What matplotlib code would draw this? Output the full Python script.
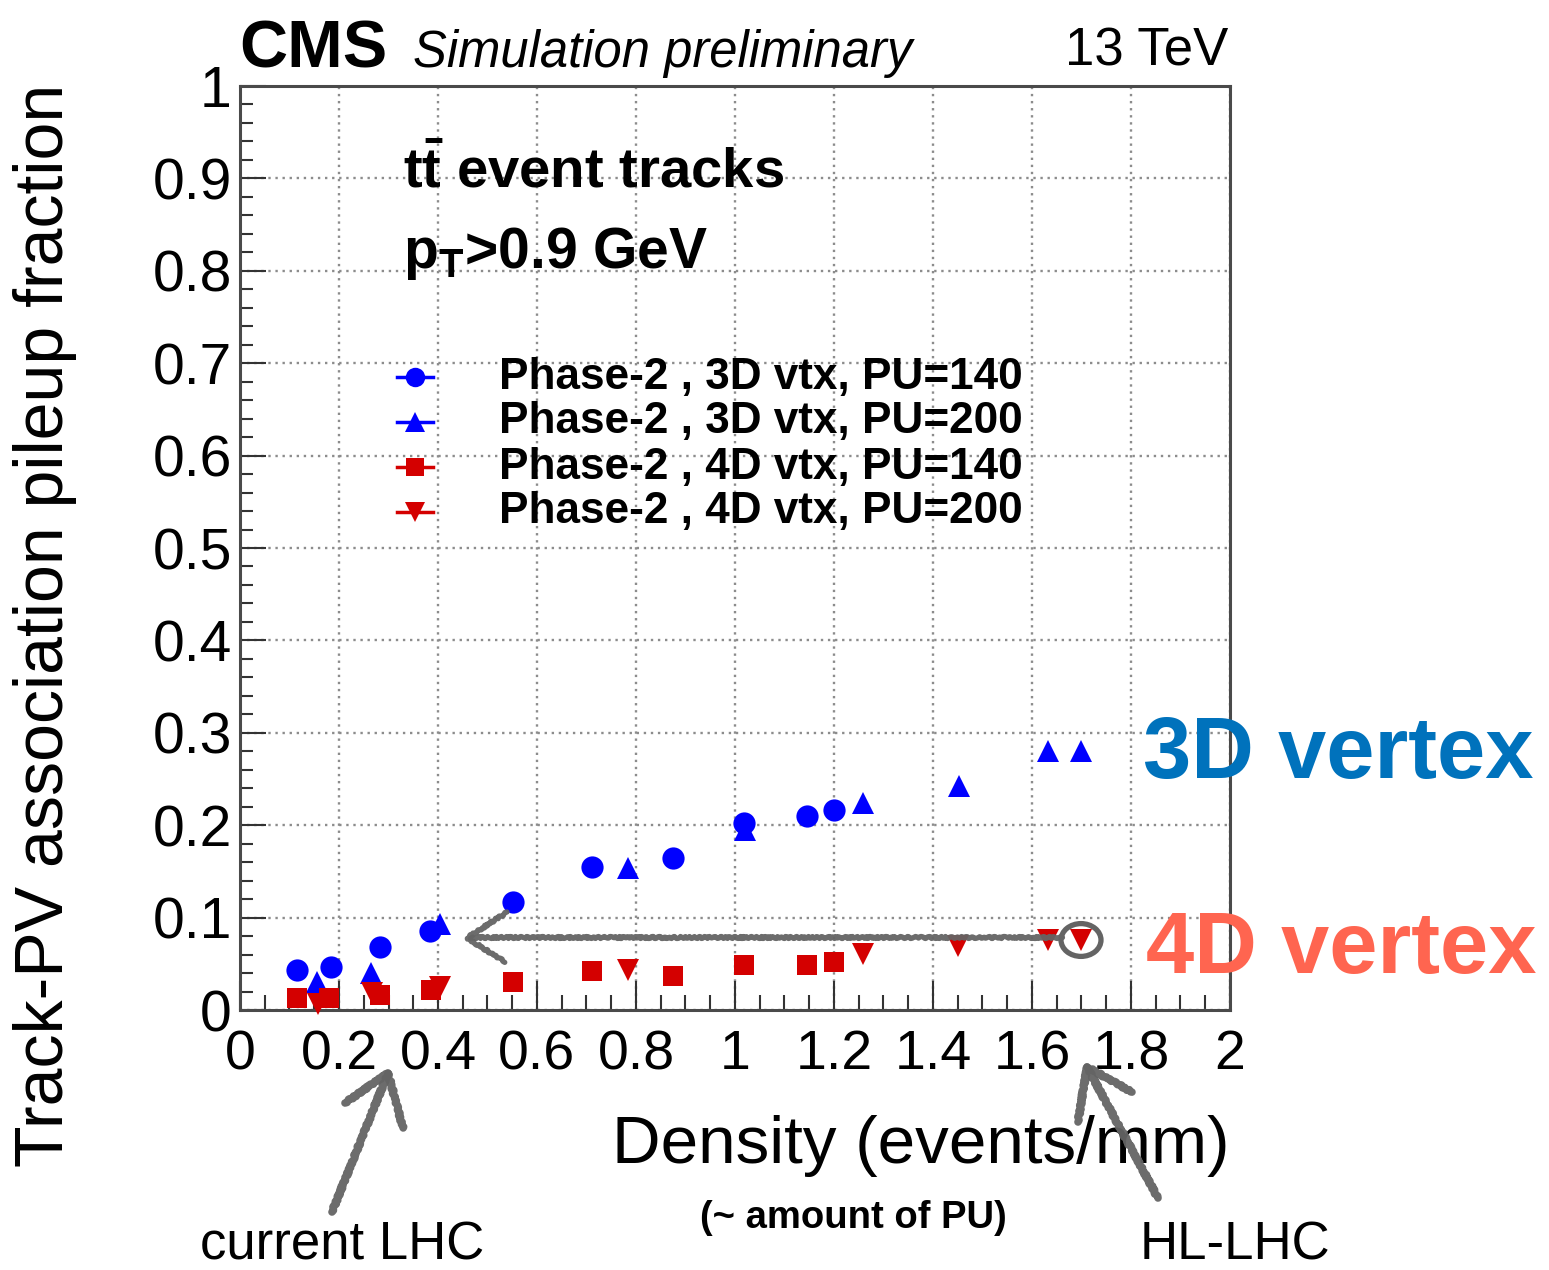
import matplotlib.pyplot as plt
from matplotlib.patches import Circle

plt.rcParams['font.family'] = ['Liberation Sans', 'DejaVu Sans']
plt.rcParams['mathtext.fontset'] = 'custom'
plt.rcParams['mathtext.rm'] = 'Liberation Sans'
plt.rcParams['mathtext.it'] = 'Liberation Sans:italic'
plt.rcParams['mathtext.bf'] = 'Liberation Sans:bold'

# pileup fraction of tracks associated to the PV, vs. vertex density (events/mm)
x_3d_140 = [0.115, 0.183, 0.283, 0.384, 0.551, 0.712, 0.875, 1.019, 1.145, 1.199]
y_3d_140 = [0.043, 0.046, 0.068, 0.086, 0.117, 0.155, 0.164, 0.202, 0.210, 0.216]

x_3d_200 = [0.155, 0.265, 0.404, 0.783, 1.020, 1.259, 1.453, 1.632, 1.700]
y_3d_200 = [0.030, 0.040, 0.093, 0.154, 0.195, 0.224, 0.242, 0.280, 0.280]

x_4d_140 = [0.115, 0.180, 0.283, 0.386, 0.551, 0.712, 0.875, 1.019, 1.146, 1.200]
y_4d_140 = [0.013, 0.013, 0.016, 0.022, 0.030, 0.042, 0.037, 0.049, 0.049, 0.052]

x_4d_200 = [0.158, 0.266, 0.404, 0.783, 1.258, 1.451, 1.632, 1.700]
y_4d_200 = [0.007, 0.018, 0.025, 0.043, 0.061, 0.069, 0.076, 0.076]

labels = ['Phase-2 , 3D vtx, PU=140', 'Phase-2 , 3D vtx, PU=200',
          'Phase-2 , 4D vtx, PU=140', 'Phase-2 , 4D vtx, PU=200']

BLUE = '#0000ff'
RED = '#d40000'
GREY = '#646464'

W, H = 1549, 1270
fig = plt.figure(figsize=(W / 100, H / 100), dpi=100)
ax = fig.add_axes([240 / W, (H - 1010) / H, 990 / W, 924 / H])


def fpx(x, y):
    # pixel position (from top-left) -> figure fraction
    return x / W, 1 - y / H


series = [
    (x_3d_140, y_3d_140, 'o', BLUE, 16),
    (x_3d_200, y_3d_200, '^', BLUE, 16),
    (x_4d_140, y_4d_140, 's', RED, 15),
    (x_4d_200, y_4d_200, 'v', RED, 16),
]
for xs, ys, m, c, ms in series:
    ax.plot(xs, ys, linestyle='none', marker=m, color=c, markersize=ms,
            markeredgewidth=0, clip_on=False, zorder=3)

ax.set_xlim(0, 2)
ax.set_ylim(0, 1)
ax.set_xticks([0, 0.2, 0.4, 0.6, 0.8, 1, 1.2, 1.4, 1.6, 1.8, 2])
ax.set_xticklabels(['0', '0.2', '0.4', '0.6', '0.8', '1', '1.2', '1.4', '1.6', '1.8', '2'])
ax.set_yticks([0, 0.1, 0.2, 0.3, 0.4, 0.5, 0.6, 0.7, 0.8, 0.9, 1])
ax.set_yticklabels(['0', '0.1', '0.2', '0.3', '0.4', '0.5', '0.6', '0.7', '0.8', '0.9', '1'])
ax.set_xticks([i * 0.05 for i in range(41)], minor=True)
ax.set_yticks([i * 0.02 for i in range(51)], minor=True)

ax.tick_params(which='both', direction='in', top=False, right=False,
               width=1.5, color='#333333')
ax.tick_params(axis='x', which='major', length=21, pad=14, labelsize=40)
ax.tick_params(axis='x', which='minor', length=11)
ax.tick_params(axis='y', which='major', length=19, pad=6, labelsize=41)
ax.tick_params(axis='y', which='minor', length=9)
for s in ax.spines.values():
    s.set_linewidth(2.2)
    s.set_color('#4a4a4a')

ax.grid(True, which='major', linestyle=(0, (1, 2)), color='#8c8c8c', linewidth=1.7)
ax.set_axisbelow(True)

ax.set_xlabel('Density (events/mm)', fontsize=48.5)
ax.xaxis.label.set_ha('right')
ax.xaxis.label.set_va('baseline')
ax.xaxis.set_label_coords(1.0, (1010 - 1163) / 924)

ax.set_ylabel('Track-PV association pileup fraction', fontsize=49)
ax.yaxis.label.set_rotation_mode('default')
ax.yaxis.label.set_ha('center')
ax.yaxis.label.set_va('top')
ax.yaxis.set_label_coords((45 - 240) / 990, (1010 - 84) / 924)

# header
fig.text(*fpx(239, 67), 'CMS', fontsize=48, fontweight='bold', va='baseline')
fig.text(*fpx(413, 67), 'Simulation preliminary', fontsize=36.5, style='italic', va='baseline')
fig.text(*fpx(1228, 66), '13 TeV', fontsize=38, ha='right', va='baseline')

# selection
fig.text(*fpx(403, 188), r'$\mathbf{t\bar{t}}$ event tracks', fontsize=40.5,
         fontweight='bold', va='baseline')
fig.text(*fpx(403, 268), r'$\mathbf{p_{T}}$>0.9 GeV', fontsize=41,
         fontweight='bold', va='baseline')

# legend
for i, (lab, (xs, ys, m, c, ms)) in enumerate(zip(labels, series)):
    yc = 377 + 45 * i
    fig.add_artist(plt.Line2D([397 / W, 415 / W, 433 / W], [1 - yc / H] * 3, color=c,
                              linewidth=2.5, marker=m, markersize=ms - 2,
                              markevery=[1], markeredgewidth=0))
    fig.text(*fpx(499, yc), lab, fontsize=31.8, fontweight='bold', va='center')

# side labels
fig.text(*fpx(1143, 778), '3D vertex', fontsize=62.5, fontweight='bold',
         color='#0072bc', va='baseline')
fig.text(*fpx(1146, 973), '4D vertex', fontsize=62.5, fontweight='bold',
         color='#ff6550', va='baseline')

# bottom notes
fig.text(*fpx(200, 1260), 'current LHC', fontsize=38, va='baseline')
fig.text(*fpx(700, 1228), '(~ amount of PU)', fontsize=27.5, fontweight='bold', va='baseline')
fig.text(*fpx(1140, 1259), 'HL-LHC', fontsize=38, va='baseline')


def stroke(pts, lw):
    xs = [fpx(*p)[0] for p in pts]
    ys = [fpx(*p)[1] for p in pts]
    ln = plt.Line2D(xs, ys, color=GREY, linewidth=lw, solid_capstyle='round',
                    solid_joinstyle='round', alpha=0.95)
    ln.set_sketch_params(scale=1.0, length=6, randomness=3)
    fig.add_artist(ln)


# hand-drawn arrows
stroke([(1062, 937), (470, 937)], 3.8)
stroke([(507, 912), (467, 938), (505, 962)], 3.8)
circ = Circle(fpx(1081, 940), 20 / W, transform=fig.transFigure, fill=False,
              edgecolor=GREY, linewidth=3.8)
fig.add_artist(circ)

stroke([(332, 1212), (388, 1073)], 5.5)
stroke([(345, 1103), (388, 1073), (403, 1128)], 5.5)

stroke([(1158, 1198), (1087, 1067)], 5.5)
stroke([(1078, 1122), (1087, 1067), (1132, 1092)], 5.5)

fig.savefig('out.png', dpi=100)
